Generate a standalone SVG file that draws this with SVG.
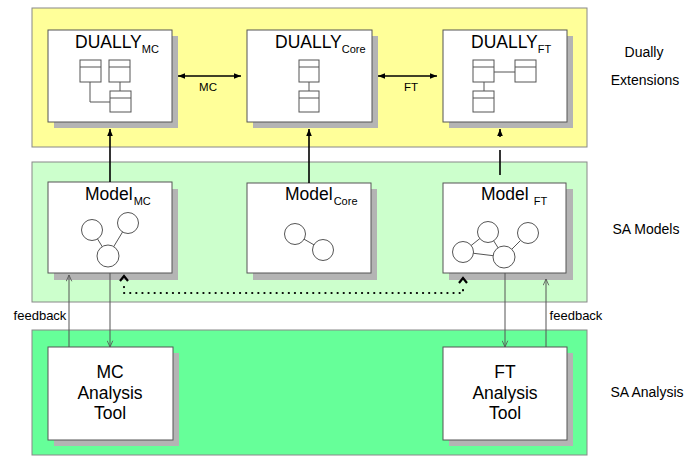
<svg xmlns="http://www.w3.org/2000/svg" width="684" height="457" viewBox="0 0 684 457">
<defs>
<marker id="ah" viewBox="0 0 10 10" refX="10" refY="5" markerWidth="7" markerHeight="7" orient="auto-start-reverse" markerUnits="userSpaceOnUse"><path d="M0,1 L10,5 L0,9 Z" fill="#000"/></marker>
<marker id="thin" viewBox="0 0 10 10" refX="10" refY="5" markerWidth="7" markerHeight="7" orient="auto" markerUnits="userSpaceOnUse"><path d="M1,1 L10,5 L1,9" fill="none" stroke="#555" stroke-width="1.2"/></marker>
</defs>
<style>
text{font-family:"Liberation Sans",Arial,sans-serif;fill:#000}
.panel{stroke:#888;stroke-width:1}
.box{fill:#fff;stroke:#555;stroke-width:1}
.sh{fill:#b4b4b4}
.ic{fill:#fff;stroke:#555;stroke-width:1}
.ln{stroke:#555;stroke-width:1;fill:none}
.title{font-size:17.5px}
.sub{font-size:11px}
.lbl{font-size:14px}
.conn{stroke:#000;stroke-width:1.6;fill:none}
.fb{stroke:#555;stroke-width:1;fill:none}
.chev{stroke:#000;stroke-width:2.2;fill:none}
</style>
<g id="panels">
<rect class="panel" x="32" y="8" width="555" height="139" fill="#ffff99"/>
<rect class="panel" x="32" y="162" width="555" height="140" fill="#ccffcc"/>
<rect class="panel" x="32" y="330" width="555" height="125" fill="#66ff99"/>
</g>
<g id="layer-labels">
<text class="lbl" x="644" y="57" text-anchor="middle">Dually</text>
<text class="lbl" x="645" y="85" text-anchor="middle">Extensions</text>
<text class="lbl" x="646" y="234" text-anchor="middle">SA Models</text>
<text class="lbl" x="647" y="397" text-anchor="middle">SA Analysis</text>
</g>
<g id="dually-mc">
<rect class="sh" x="54" y="36" width="124" height="92"/>
<rect class="box" x="48" y="30" width="124" height="92"/>
<text class="title" x="75" y="48">DUALLY<tspan class="sub" dy="5">MC</tspan></text>
<path class="ln" d="M90,82 V102 H110 M120,82 V91"/>
<rect class="ic" x="80" y="60" width="21" height="22"/><path class="ln" d="M80,67 H101"/>
<rect class="ic" x="109" y="60" width="21" height="22"/><path class="ln" d="M109,67 H130"/>
<rect class="ic" x="110" y="91" width="21" height="21"/><path class="ln" d="M110,98 H131"/>
</g>
<g id="dually-core">
<rect class="sh" x="253" y="36" width="125" height="92"/>
<rect class="box" x="247" y="30" width="125" height="92"/>
<text class="title" x="275" y="48">DUALLY<tspan class="sub" dy="5">Core</tspan></text>
<path class="ln" d="M309,82 V91"/>
<rect class="ic" x="299" y="60" width="20" height="22"/><path class="ln" d="M299,67 H319"/>
<rect class="ic" x="299" y="91" width="20" height="21"/><path class="ln" d="M299,98 H319"/>
</g>
<g id="dually-ft">
<rect class="sh" x="449" y="36" width="124" height="92"/>
<rect class="box" x="443" y="30" width="124" height="92"/>
<text class="title" x="471" y="48">DUALLY<tspan class="sub" dy="5">FT</tspan></text>
<path class="ln" d="M494,72 H515 M484,82 V91"/>
<rect class="ic" x="473" y="60" width="21" height="22"/><path class="ln" d="M473,67 H494"/>
<rect class="ic" x="515" y="60" width="21" height="22"/><path class="ln" d="M515,67 H536"/>
<rect class="ic" x="473" y="91" width="21" height="21"/><path class="ln" d="M473,98 H494"/>
</g>
<g id="model-mc">
<rect class="sh" x="54" y="189" width="124" height="91"/>
<rect class="box" x="48" y="182" width="124" height="91"/>
<text class="title" x="85" y="200">Model<tspan class="sub" dx="1" dy="5">MC</tspan></text>
<path class="ln" d="M92,230 L108,256 L128,223"/>
<circle class="ic" cx="92" cy="230" r="10.5"/>
<circle class="ic" cx="128" cy="223" r="10.5"/>
<circle class="ic" cx="108" cy="256" r="11"/>
</g>
<g id="model-core">
<rect class="sh" x="253" y="189" width="124" height="91"/>
<rect class="box" x="247" y="183" width="124" height="90"/>
<text class="title" x="285" y="200">Model<tspan class="sub" dx="1" dy="5">Core</tspan></text>
<path class="ln" d="M295,234 L323,250"/>
<circle class="ic" cx="295" cy="234" r="10.5"/>
<circle class="ic" cx="323" cy="250" r="10.5"/>
</g>
<g id="model-ft">
<rect class="sh" x="449" y="189" width="124" height="91"/>
<rect class="box" x="443" y="183" width="123" height="90"/>
<text class="title" x="481" y="200">Model<tspan class="sub" dx="5" dy="5">FT</tspan></text>
<path class="ln" d="M463,252 L488,232 L504,257 Z M504,257 L528,233"/>
<circle class="ic" cx="463" cy="252" r="10.5"/>
<circle class="ic" cx="488" cy="232" r="10.5"/>
<circle class="ic" cx="504" cy="257" r="11"/>
<circle class="ic" cx="528" cy="233" r="10.5"/>
</g>
<g id="mc-tool">
<rect class="sh" x="54" y="353" width="125" height="93"/>
<rect class="box" x="48" y="347" width="125" height="93"/>
<text class="title" x="110" y="378" text-anchor="middle">MC</text>
<text class="title" x="110" y="399" text-anchor="middle">Analysis</text>
<text class="title" x="110" y="419" text-anchor="middle">Tool</text>
</g>
<g id="ft-tool">
<rect class="sh" x="449" y="353" width="124" height="93"/>
<rect class="box" x="443" y="347" width="124" height="93"/>
<text class="title" x="505" y="378" text-anchor="middle">FT</text>
<text class="title" x="505" y="399" text-anchor="middle">Analysis</text>
<text class="title" x="505" y="419" text-anchor="middle">Tool</text>
</g>
<g id="connectors">
<path class="conn" d="M178,76 H241" marker-start="url(#ah)" marker-end="url(#ah)"/>
<text x="208" y="91" font-size="11.5" text-anchor="middle">MC</text>
<path class="conn" d="M378,76 H437" marker-start="url(#ah)" marker-end="url(#ah)"/>
<text x="411" y="91" font-size="11.5" text-anchor="middle">FT</text>
<path class="conn" d="M110,182 V129" marker-end="url(#ah)"/>
<path class="conn" d="M309,183 V129" marker-end="url(#ah)"/>
<path class="conn" d="M500,137 V129" marker-end="url(#ah)"/>
<path class="conn" d="M500,150 V175"/>
<path class="fb" d="M69,347 V275" marker-end="url(#thin)"/>
<path class="fb" d="M110,273 V347" marker-end="url(#thin)"/>
<path class="fb" d="M505,273 V347" marker-end="url(#thin)"/>
<path class="fb" d="M546,347 V279" marker-end="url(#thin)"/>
<text x="40" y="320" font-size="13" text-anchor="middle">feedback</text>
<text x="576" y="320" font-size="13" text-anchor="middle">feedback</text>
<path d="M124,287 V293 H463 V287" fill="none" stroke="#000" stroke-width="2.2" stroke-dasharray="0.1 6" stroke-linecap="round"/>
<path class="chev" d="M120,281 L124,276 L128,281"/>
<path class="chev" d="M459,283 L463,278 L467,283"/>
</g>
</svg>
